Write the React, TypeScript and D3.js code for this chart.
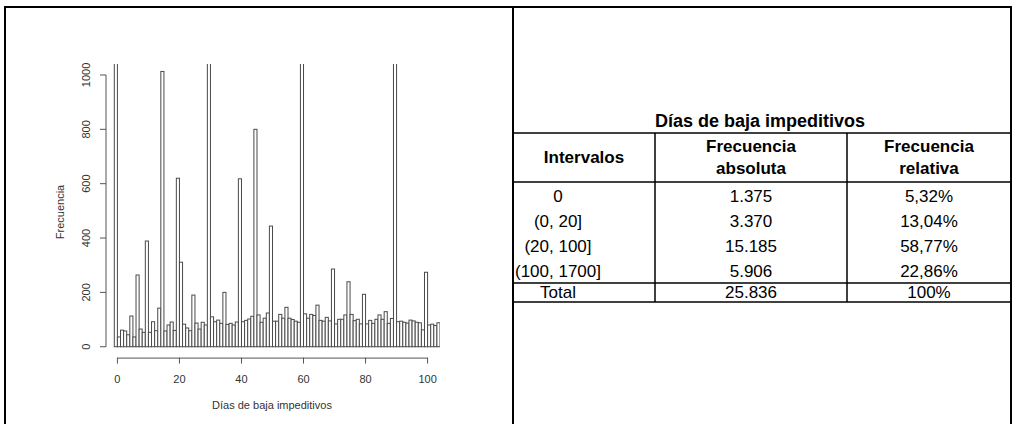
import React from "react";
import * as d3 from "d3";

// Histogram: frequency per number of days (bin d covers (d-1, d])
const freq: number[] = [
  1375, 36, 61, 58, 44, 113, 36, 264, 65, 53,
  389, 53, 92, 59, 142, 1013, 58, 80, 91, 60,
  620, 311, 83, 69, 59, 190, 87, 65, 90, 80,
  1480, 110, 92, 98, 86, 200, 82, 86, 80, 91,
  618, 92, 97, 102, 112, 800, 117, 90, 105, 124,
  444, 94, 94, 119, 105, 145, 105, 100, 94, 90,
  1250, 121, 105, 119, 115, 153, 97, 94, 108, 95,
  286, 84, 101, 101, 117, 239, 119, 96, 101, 84,
  193, 84, 97, 86, 101, 117, 101, 129, 86, 104,
  1100, 92, 94, 90, 87, 98, 95, 90, 88, 62,
  274, 80, 83, 78, 88,
];
const xTicks = [0, 20, 40, 60, 80, 100];
const yTicks = [0, 200, 400, 600, 800, 1000];
const xTitle = "Días de baja impeditivos";
const yTitle = "Frecuencia";

// Table
const tableTitle = "Días de baja impeditivos";
const headers: string[][] = [["Intervalos"], ["Frecuencia", "absoluta"], ["Frecuencia", "relativa"]];
const intervals = ["0", "(0, 20]", "(20, 100]", "(100, 1700]", "Total"];
const absFreq = ["1.375", "3.370", "15.185", "5.906", "25.836"];
const relFreq = ["5,32%", "13,04%", "58,77%", "22,86%", "100%"];

const FONT = "'Liberation Sans', Arial, sans-serif";

export default function App() {
  const x = d3.scaleLinear().domain([-4, 104]).range([105, 440]);
  const y = d3.scaleLinear().domain([-40, 1040]).range([357.6, 64.1]);
  const [pl, pr] = x.range();
  const [pb, pt] = y.range();
  const barColor = "#4a4a4a";

  // table geometry
  const tL = 513, tR = 1011;
  const colX = [tL, 655, 847, tR];
  const hTop = 133, hBot = 182, bBot = 283, tBot = 302;
  const bodyY = d3.scaleLinear().domain([0, 3]).range([196.5, 271]);
  const headC = [0, 1, 2].map((i) => (colX[i] + colX[i + 1]) / 2);
  const bodyC = [558, headC[1], headC[2]];
  const cols = [intervals, absFreq, relFreq];

  return (
    <svg width={1016} height={424} style={{ position: "absolute", left: 0, top: 0, background: "#fff" }}>
      <defs>
        <clipPath id="plotclip">
          <rect x={pl} y={pt} width={pr - pl} height={pb - pt} />
        </clipPath>
      </defs>
      <rect x={0} y={0} width={1016} height={424} fill="#fff" />

      {/* bars */}
      <g clipPath="url(#plotclip)">
        {freq.map((v, d) => (
          <rect
            key={d}
            x={x(d - 1)}
            y={y(v)}
            width={x(d) - x(d - 1)}
            height={y(0) - y(v)}
            fill="#fff"
            stroke={barColor}
            strokeWidth={1}
          />
        ))}
      </g>

      {/* y axis */}
      <g fontFamily={FONT} fontSize={11} fill="#333">
        <line x1={pl + 1} x2={pl + 1} y1={y(0)} y2={y(1000)} stroke="#555" />
        {yTicks.map((t) => (
          <g key={t}>
            <line x1={pl - 5} x2={pl + 1} y1={y(t)} y2={y(t)} stroke="#555" />
            <text
              transform={`translate(${86},${y(t)}) rotate(-90)`}
              textAnchor="middle"
              dominantBaseline="central"
            >
              {t}
            </text>
          </g>
        ))}
        <text transform={`translate(60,212) rotate(-90)`} textAnchor="middle" dominantBaseline="central">
          {yTitle}
        </text>
      </g>

      {/* x axis */}
      <g fontFamily={FONT} fontSize={11} fill="#333">
        <line x1={x(0)} x2={x(100)} y1={pb + 0.5} y2={pb + 0.5} stroke="#555" />
        {xTicks.map((t) => (
          <g key={t}>
            <line x1={x(t)} x2={x(t)} y1={pb} y2={pb + 6} stroke="#555" />
            <text x={x(t)} y={378.5} textAnchor="middle" dominantBaseline="central">
              {t}
            </text>
          </g>
        ))}
        <text x={272} y={405} textAnchor="middle" dominantBaseline="central">
          {xTitle}
        </text>
      </g>

      {/* outer frame */}
      <g stroke="#000" strokeWidth={2} fill="none">
        <line x1={5} x2={1011} y1={7} y2={7} />
        <line x1={5} x2={5} y1={6} y2={424} />
        <line x1={513} x2={513} y1={6} y2={424} />
        <line x1={1011} x2={1011} y1={6} y2={424} />
      </g>

      {/* table */}
      <g stroke="#000" strokeWidth={1.5}>
        {[hTop, hBot, bBot, tBot].map((yy) => (
          <line key={yy} x1={tL} x2={tR} y1={yy} y2={yy} />
        ))}
        {[colX[1], colX[2]].map((xx) => (
          <line key={xx} x1={xx} x2={xx} y1={hTop} y2={tBot} />
        ))}
      </g>
      <g fontFamily={FONT} fill="#000" fontSize={17}>
        <text x={760} y={121} textAnchor="middle" dominantBaseline="central" fontWeight="bold" fontSize={18}>
          {tableTitle}
        </text>
        {headers.map((h, i) =>
          h.length === 1 ? (
            <text key={i} x={headC[i]} y={157} textAnchor="middle" dominantBaseline="central" fontWeight="bold">
              {h[0]}
            </text>
          ) : (
            <g key={i}>
              <text x={headC[i]} y={146} textAnchor="middle" dominantBaseline="central" fontWeight="bold">
                {h[0]}
              </text>
              <text x={headC[i]} y={168} textAnchor="middle" dominantBaseline="central" fontWeight="bold">
                {h[1]}
              </text>
            </g>
          )
        )}
        {cols.map((col, ci) =>
          col.map((s, ri) => (
            <text
              key={`${ci}-${ri}`}
              x={bodyC[ci]}
              y={ri < 4 ? bodyY(ri) : 292.5}
              textAnchor="middle"
              dominantBaseline="central"
            >
              {s}
            </text>
          ))
        )}
      </g>
    </svg>
  );
}
